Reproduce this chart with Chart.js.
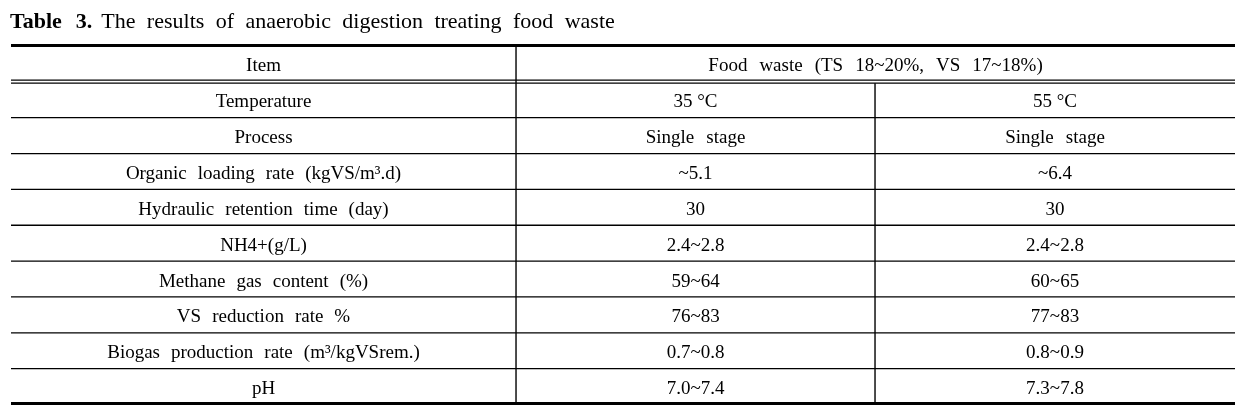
<!DOCTYPE html>
<html>
<head>
<meta charset="utf-8">
<script src="https://cdn.jsdelivr.net/npm/chart.js@4"></script>
<style>
  html, body { margin: 0; padding: 0; background: #fff; }
  canvas { display: block; }
</style>
</head>
<body>
<canvas id="table" width="1246" height="413"></canvas>
<script>
// table content
const titleBold = 'Table 3.'
const titleText = 'The results of anaerobic digestion treating food waste'
const headerItem = 'Item'
const headerSpan = 'Food waste (TS 18~20%, VS 17~18%)'
const items = [
  'Temperature',
  'Process',
  'Organic loading rate (kgVS/m³.d)',
  'Hydraulic retention time (day)',
  'NH4+(g/L)',
  'Methane gas content (%)',
  'VS reduction rate %',
  'Biogas production rate (m³/kgVSrem.)',
  'pH'
]
// \u00a0 keeps the narrow space between number and unit
const values35 = ['35\u00a0°C', 'Single stage', '~5.1', '30', '2.4~2.8', '59~64', '76~83', '0.7~0.8', '7.0~7.4']
const values55 = ['55\u00a0°C', 'Single stage', '~6.4', '30', '2.4~2.8', '60~65', '77~83', '0.8~0.9', '7.3~7.8']

// layout (fractions of the table width)
const colEdges = [0, 0.4126, 0.7059, 1]
const FONT = '"Liberation Serif", "Times New Roman", serif'
const WORD_GAP = 12

// draw text word by word so the wide word spacing of the original is kept
function spacedWidth(ctx, text, gap) {
  const words = text.split(' ')
  return words.reduce((w, s) => w + ctx.measureText(s).width, 0) + gap * (words.length - 1)
}

function drawSpaced(ctx, text, x, y, gap, align) {
  const words = text.split(' ')
  const total = spacedWidth(ctx, text, gap)
  let cx = align === 'center' ? x - total / 2 : x
  ctx.textAlign = 'left'
  words.forEach(s => {
    ctx.fillText(s, cx, y)
    cx += ctx.measureText(s).width + gap
  })
  return total
}

const tablePlugin = {
  id: 'tablePlugin',
  afterDraw(chart) {
    const { ctx, chartArea, scales: { x, y } } = chart
    const left = chartArea.left, right = chartArea.right
    const edge = i => y.getPixelForValue(i - 0.5)
    const colX = i => x.getPixelForValue(colEdges[i])
    const colMid = i => x.getPixelForValue((colEdges[i] + colEdges[i + 1]) / 2)

    ctx.save()
    ctx.fillStyle = '#000'
    ctx.strokeStyle = '#000'

    // title
    ctx.textBaseline = 'alphabetic'
    ctx.font = 'bold 22px ' + FONT
    const bw = drawSpaced(ctx, titleBold, 10, 27.5, 14, 'left')
    ctx.font = '22px ' + FONT
    drawSpaced(ctx, titleText, 10 + bw + 9, 27.5, 11.4, 'left')

    // rules
    const hline = (py, w) => {
      ctx.lineWidth = w
      ctx.beginPath()
      ctx.moveTo(left, py)
      ctx.lineTo(right, py)
      ctx.stroke()
    }
    hline(edge(0), 3)
    hline(edge(1) - 1.2, 1.2)
    hline(edge(1) + 1.8, 1.2)
    for (let i = 2; i <= items.length; i++) hline(edge(i) + 0.5, 1.3)
    hline(edge(items.length + 1) - 0.5, 3)

    ctx.lineWidth = 1.4
    ctx.beginPath()
    ctx.moveTo(colX(1), edge(0))
    ctx.lineTo(colX(1), edge(items.length + 1) - 1)
    ctx.moveTo(colX(2), edge(1) + 2)
    ctx.lineTo(colX(2), edge(items.length + 1) - 1)
    ctx.stroke()

    // cells
    ctx.font = '19px ' + FONT
    ctx.textBaseline = 'middle'
    const cellY = i => y.getPixelForValue(i) + 3
    drawSpaced(ctx, headerItem, colMid(0), cellY(0), WORD_GAP, 'center')
    drawSpaced(ctx, headerSpan, x.getPixelForValue((colEdges[1] + colEdges[3]) / 2), cellY(0), WORD_GAP, 'center')
    items.forEach((label, i) => {
      drawSpaced(ctx, label, colMid(0), cellY(i + 1), WORD_GAP - 1, 'center')
      drawSpaced(ctx, values35[i], colMid(1), cellY(i + 1), WORD_GAP, 'center')
      drawSpaced(ctx, values55[i], colMid(2), cellY(i + 1), WORD_GAP, 'center')
    })
    ctx.restore()
  }
}

new Chart(document.getElementById('table'), {
  type: 'scatter',
  data: { labels: [headerItem, ...items], datasets: [] },
  options: {
    responsive: false,
    devicePixelRatio: 1,
    animation: false,
    layout: { padding: { left: 11, right: 11, top: 45.5, bottom: 9 } },
    plugins: { legend: { display: false }, tooltip: { enabled: false } },
    scales: {
      x: { type: 'linear', min: 0, max: 1, display: false },
      y: { type: 'category', labels: [headerItem, ...items], offset: true, display: false }
    }
  },
  plugins: [tablePlugin]
})
</script>
</body>
</html>
